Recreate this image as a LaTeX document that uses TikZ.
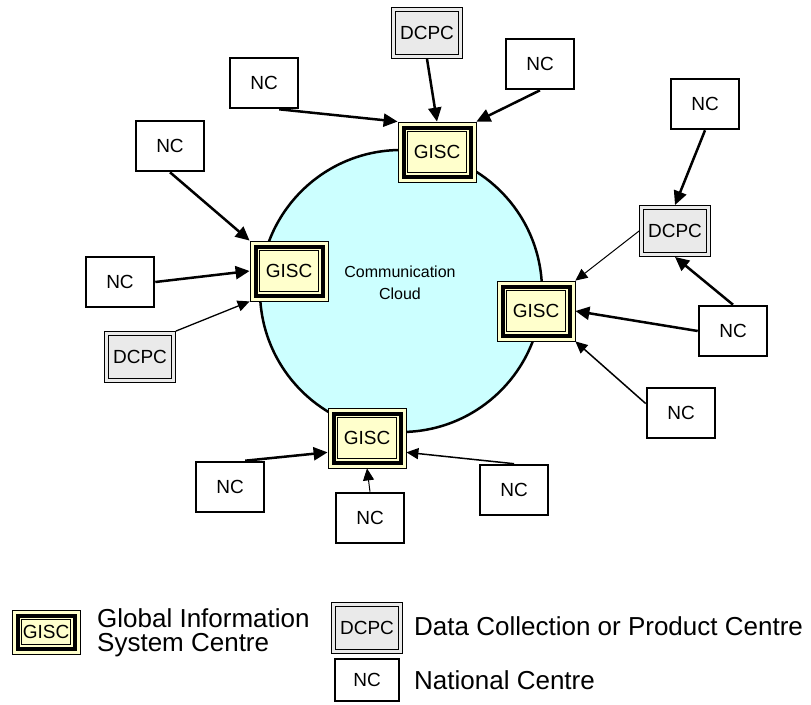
\documentclass[tikz,border=0pt]{standalone}
\usepackage{fontspec}
\setmainfont{Liberation Sans}
\usetikzlibrary{arrows.meta}
\definecolor{giscyellow}{HTML}{FFFFCC}
\definecolor{cloudcyan}{HTML}{CCFFFF}
\definecolor{dcpcgray}{HTML}{EAEAEA}
\tikzset{
	gisc/.style={draw, line width=0.8pt, fill=giscyellow, inner sep=0pt,
		minimum width=78pt, minimum height=60pt, font=\fontsize{19}{21}\selectfont,
		path picture={
			\draw[line width=4pt] ([shift={(5.5pt,-5.5pt)}]path picture bounding box.north west) rectangle ([shift={(-5.5pt,5.5pt)}]path picture bounding box.south east);
			\draw[line width=1pt] ([shift={(9.5pt,-9.5pt)}]path picture bounding box.north west) rectangle ([shift={(-9.5pt,9.5pt)}]path picture bounding box.south east);
		}},
	dcpc/.style={draw, line width=0.9pt, fill=dcpcgray, minimum width=71pt, minimum height=51pt,
		inner sep=0pt, font=\fontsize{19}{21}\selectfont,
		path picture={
			\draw[line width=0.9pt] ([shift={(3.8pt,-3.8pt)}]path picture bounding box.north west) rectangle ([shift={(-3.8pt,3.8pt)}]path picture bounding box.south east);
		}},
	nc/.style={draw, line width=2.6pt, fill=white, minimum width=68pt, minimum height=50pt,
		inner sep=0pt, font=\fontsize{19}{21}\selectfont},
	feed/.style={line width=2.5pt, -{Triangle[length=14pt,width=13pt]}},
	link/.style={line width=1pt, -{Triangle[length=12pt,width=11pt]}},
	legend/.style={anchor=west, align=left, inner sep=0pt, font=\fontsize{26}{24}\selectfont}
}
\begin{document}
\begin{tikzpicture}[x=1pt, y=-1pt]
		\useasboundingbox (0,0) rectangle (811,704);
		\node[circle, draw, line width=2.5pt, fill=cloudcyan, minimum size=282pt] (C) at (401,291) {};
		\node[align=center, font=\fontsize{16}{22}\selectfont] (Ct) at (400,283) {Communication\\Cloud};

		\node[gisc] (GT) at (437,152) {GISC};
			\node[dcpc] (DT) at (427,33) {DCPC};
			\node[nc] (N1) at (264,83) {NC};
			\node[nc] (N2) at (540,64) {NC};
			\draw[feed] (N1.300) -- (GT.north west);
			\draw[feed] (DT.south) -- (GT.north);
			\draw[feed] (N2.south) -- (GT.north east);
		\node[gisc] (GL) at (289,271) {GISC};
			\node[nc] (N3) at (170,146) {NC};
			\node[nc] (N4) at (120,282) {NC};
			\node[dcpc] (DL) at (140,357) {DCPC};
			\draw[feed] (N3.south) -- (GL.north west);
			\draw[feed] (N4.east) -- (GL.west);
			\draw[link, line width=1.3pt] (DL.north east) -- (GL.south west);
		\node[gisc] (GR) at (536,311) {GISC};
			\node[dcpc] (DR) at (675,231) {DCPC};
			\node[nc] (N5) at (705,104) {NC};
			\node[nc] (N6) at (733,331) {NC};
			\node[nc] (N7) at (681,413) {NC};
			\draw[feed] (N5.south) -- (DR.north);
			\draw[link] (DR.west) -- (GR.north east);
			\draw[feed] (N6.north) -- (DR.south);
			\draw[feed] (N6.west) -- (GR.east);
			\draw[link, line width=1.5pt] (N7.165) -- (GR.south east);
		\node[gisc] (GB) at (367,438) {GISC};
			\node[nc] (N8) at (230,487) {NC};
			\node[nc] (N9) at (370,518) {NC};
			\node[nc] (N10) at (514,490) {NC};
			\draw[feed] (N8.60) -- (GB.200);
			\draw[link] (N9.north) -- (GB.south);
			\draw[link, line width=1.5pt] (N10.north) -- (GB.340);

		\node[gisc, minimum width=68pt, minimum height=44pt] (LG) at (46,632) {GISC};
		\node[legend] (LGt) at (97,633) {Global Information\\System Centre};
		\node[dcpc] (LD) at (367,628) {DCPC};
		\node[legend] (LDt) at (414,626) {Data Collection or Product Centre};
		\node[nc, minimum width=64pt, minimum height=42pt] (LN) at (367,680) {NC};
		\node[legend] (LNt) at (414,680) {National Centre};
	\end{tikzpicture}
\end{document}
